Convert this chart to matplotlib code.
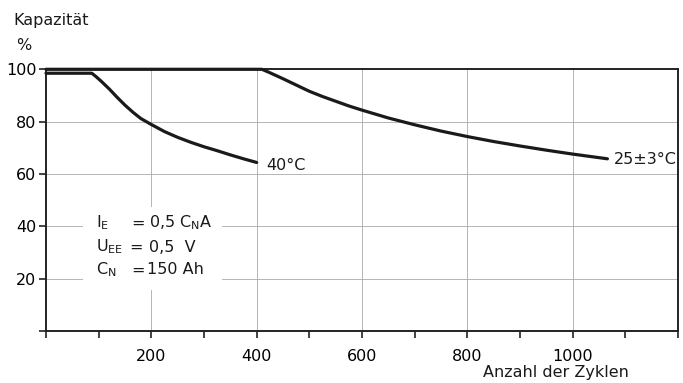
import matplotlib
matplotlib.use("Agg")
import matplotlib.pyplot as plt
from matplotlib.patches import Rectangle

plt.rcParams["font.family"] = ["DejaVu Sans"]

# data
cyc_40 = [0, 87, 95, 105, 120, 135, 150, 165, 180, 200, 225, 250, 275,
          300, 325, 350, 375, 400]
cap_40 = [98.5, 98.5, 97.2, 95.4, 92.5, 89.3, 86.3, 83.6, 81.2, 78.9, 76.2,
          74.0, 72.1, 70.4, 68.9, 67.3, 65.8, 64.4]
cyc_25 = [0, 410, 425, 450, 475, 500, 525, 550, 575, 600, 650, 700, 750,
          800, 850, 900, 950, 1000, 1066]
cap_25 = [100, 100, 98.7, 96.4, 94.0, 91.6, 89.6, 87.8, 86.0, 84.4, 81.4,
          78.8, 76.4, 74.3, 72.4, 70.7, 69.1, 67.6, 65.8]
x_ticks = list(range(0, 1201, 100))
x_labels = ["", "", "200", "", "400", "", "600", "", "800", "", "1000", "", ""]
y_ticks = [0, 20, 40, 60, 80, 100]
y_labels = ["", "20", "40", "60", "80", "100"]

W, H = 683, 383
fig = plt.figure(figsize=(W / 100, H / 100), dpi=100)
L, R, B, T = 46, 678, 331, 69.3
ax = fig.add_axes([L / W, 1 - B / H, (R - L) / W, (B - T) / H])
ax.set_xlim(0, 1200)
ax.set_ylim(0, 100)

fs = 11.5
ax.set_xticks(x_ticks)
ax.set_xticklabels(x_labels, fontsize=fs)
ax.set_yticks(y_ticks)
ax.set_yticklabels(y_labels, fontsize=fs)
ax.tick_params(direction="out", length=5, width=1.2, color="#222222", pad=2)
ax.tick_params(axis="x", pad=8)
for s in ax.spines.values():
    s.set_linewidth(1.4)
    s.set_color("#222222")

# grid at 200/20 steps
for gx in range(200, 1200, 200):
    ax.axvline(gx, color="#aaaaaa", lw=0.6, zorder=1)
for gy in range(20, 100, 20):
    ax.axhline(gy, color="#aaaaaa", lw=0.6, zorder=1)

# white area behind annotation
ax.add_patch(Rectangle(((83 - L) / (R - L), (B - 290) / (B - T)),
                       (222 - 83) / (R - L), (290 - 207) / (B - T),
                       transform=ax.transAxes, facecolor="white",
                       edgecolor="none", zorder=2))

ax.plot(cyc_25, cap_25, color="#1a1a1a", lw=2.3, zorder=4,
        solid_joinstyle="round", solid_capstyle="round", clip_on=False)
ax.plot(cyc_40, cap_40, color="#1a1a1a", lw=2.3, zorder=4,
        solid_joinstyle="round", solid_capstyle="round", clip_on=False)

def ftext(px, py, s, **kw):
    fig.text(px / W, 1 - py / H, s, fontsize=fs, color="#1a1a1a", **kw)

ftext(13, 20, "Kapazität", va="center")
ftext(16, 46, "%", va="center")
ftext(266, 165, "40°C", va="center")
ftext(614, 160, "25±3°C", va="center")
ftext(483, 373, "Anzahl der Zyklen", va="center")

# annotation block
ftext(96, 223, r"I$_\mathregular{E}$", va="center")
ftext(131, 223, "=", va="center")
ftext(149, 223, r"0,5 C$_\mathregular{N}$A", va="center")
ftext(96, 247, r"U$_\mathregular{EE}$", va="center")
ftext(129, 247, "=", va="center")
ftext(149, 247, "0,5  V", va="center")
ftext(96, 270, r"C$_\mathregular{N}$", va="center")
ftext(131, 270, "=", va="center")
ftext(147, 270, "150 Ah", va="center")

fig.savefig("out.png", dpi=100)
